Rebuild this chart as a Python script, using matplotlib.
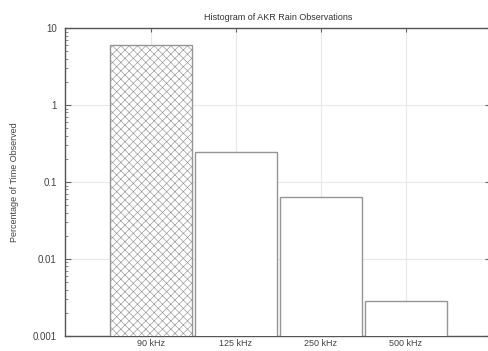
""" AKR rain histogram """

import matplotlib
matplotlib.use('Agg')
import matplotlib.pyplot as plt

# data

bands = ['90 kHz', '125 kHz', '250 kHz', '500 kHz']
percent_observed = [6.0, 0.245, 0.064, 0.0028]
hatched = [True, False, False, False]

# plot design

plt.rcParams.update({'font.size': 7, 'font.family': 'Liberation Sans',
                     'hatch.color': '#b0b0b0', 'hatch.linewidth': 0.45})

fig = plt.figure(figsize=(4.89, 3.51), dpi=100)
ax = fig.add_axes([0.133, 0.043, 0.871, 0.877])
ax.set_yscale('log')

positions = list(range(len(bands)))
for x, val, h in zip(positions, percent_observed, hatched):
    ax.bar(x, val, width=0.96,
           facecolor='white', edgecolor='#959595', linewidth=1.0,
           hatch='xxxx' if h else None, zorder=3)

ax.set_ylim(0.001, 10)
ax.set_xlim(-1.01, 4.0)
ax.set_xticks(positions)
ax.set_xticklabels(bands, color='#444444', fontsize=6.5)
ax.set_yticks([0.001, 0.01, 0.1, 1, 10])
ax.set_yticklabels(['0.001', '0.01', '0.1', '1', '10'], color='#444444')

ax.grid(True, which='major', color='#e8e8e8', linewidth=0.8, zorder=0)
ax.set_axisbelow(True)

for side in ['top', 'bottom', 'left', 'right']:
    ax.spines[side].set_color('#555555')
    ax.spines[side].set_linewidth(1.0)

ax.tick_params(which='major', direction='in', length=4, width=0.8, color='#666666',
               top=True, right=True, pad=6)
ax.tick_params(which='minor', direction='in', length=2, width=0.6, color='#777777',
               right=True)
ax.tick_params(axis='x', which='major', length=3, pad=2.5)

ax.set_title('Histogram of AKR Rain Observations', fontsize=6.5, color='#333333', pad=6)
ax.set_ylabel('Percentage of Time Observed', fontsize=6.5, color='#444444', labelpad=10)

plt.savefig('out.png', dpi=100)
